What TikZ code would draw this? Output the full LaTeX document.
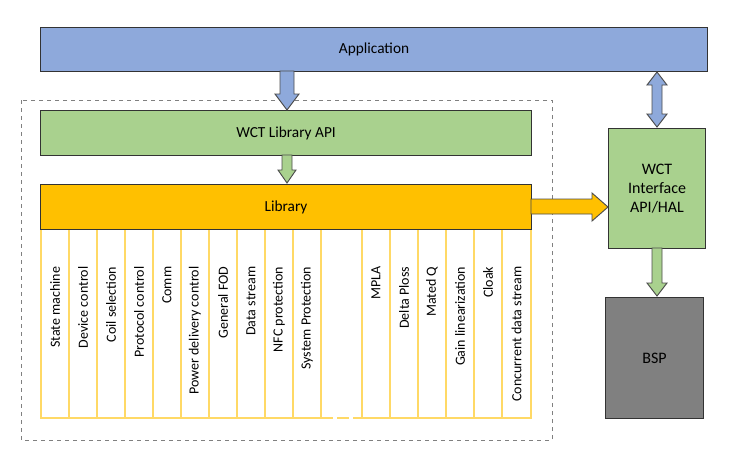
\documentclass[tikz,border=0pt]{standalone}
\usepackage{fontspec}
\setmainfont{Carlito}
\begin{document}
\begin{tikzpicture}[x=0.75pt,y=-0.75pt,
 box/.style={draw=black!80,line width=0.8pt,inner sep=0pt,anchor=north west},
 col/.style={draw=yellow!70!orange,line width=0.5pt},
 coltext/.style={rotate=90,anchor=east,font=\fontsize{10.5}{12}\selectfont},
 blk/.style={draw=black!70,line width=0.7pt}]
\useasboundingbox (0,0) rectangle (729,454);
\definecolor{appblue}{HTML}{8EA9DB}
\definecolor{lgreen}{HTML}{A9D18E}
\definecolor{lorange}{HTML}{FFC000}
\definecolor{colline}{HTML}{FFD966}
\draw[dashed,gray,line width=0.7pt] (21,100) rectangle (552,440);
\node[box,fill=appblue,minimum width=667*0.75pt,minimum height=44*0.75pt,font=\fontsize{11.5}{13}\selectfont] (app) at (40,27) {Application};
\node[box,fill=lgreen,minimum width=491*0.75pt,minimum height=45*0.75pt,font=\fontsize{11.5}{13}\selectfont] (api) at (40,110) {WCT Library API};
% columns
\foreach \a/\b/\t in {41/69/State machine,69/97/Device control,97/125/Coil selection,125/153/Protocol control,153/181/Comm,181/209/Power delivery control,209/237/General FOD,237/265/Data stream,265/293/NFC protection,293/321/System Protection,362/390/MPLA/MPLA2,390/418/Delta Ploss,418/446/Mated Q,446/474/Gain linearization,474/502/Cloak,502/531/Concurrent data stream}{
  \draw[draw=colline,line width=0.8pt] (\a,229) rectangle (\b,418);
  \node[coltext] at ({(\a+\b)/2},262) {\t};
}
\draw[draw=colline,line width=0.8pt] (321,418) -- (321,229) -- (362,229) -- (362,418);
\draw[draw=colline,line width=0.8pt,dash pattern=on 9pt off 3pt] (321,418) -- (362,418);
\node[box,fill=lorange,minimum width=491*0.75pt,minimum height=45*0.75pt,font=\fontsize{11.5}{13}\selectfont] (lib) at (40,184) {Library};
\node[box,fill=lgreen,minimum width=97*0.75pt,minimum height=120*0.75pt,align=center,font=\fontsize{12}{14}\selectfont] (wif) at (608,128) {WCT\\Interface\\API/HAL};
\node[box,fill=black!50,minimum width=98*0.75pt,minimum height=121*0.75pt,font=\fontsize{12}{14}\selectfont] (bsp) at (605,297) {BSP};
% block arrows
\draw[blk,fill=appblue] (280,71) -- (294,71) -- (294,94) -- (299,94) -- (287,110) -- (275,94) -- (280,94) -- cycle;
\draw[blk,fill=lgreen] (282,155) -- (292,155) -- (292,170) -- (296,170) -- (287,183) -- (278,170) -- (282,170) -- cycle;
\draw[blk,fill=lorange] (531,199) -- (592,199) -- (592,193) -- (608,207) -- (592,221) -- (592,214) -- (531,214) -- cycle;
\draw[blk,fill=appblue] (657,72) -- (667,85) -- (662,85) -- (662,114) -- (667,114) -- (657,127) -- (647,114) -- (652,114) -- (652,85) -- (647,85) -- cycle;
\draw[blk,fill=lgreen] (652,248) -- (662,248) -- (662,283) -- (667,283) -- (657,296) -- (647,283) -- (652,283) -- cycle;
\end{tikzpicture}
\end{document}
